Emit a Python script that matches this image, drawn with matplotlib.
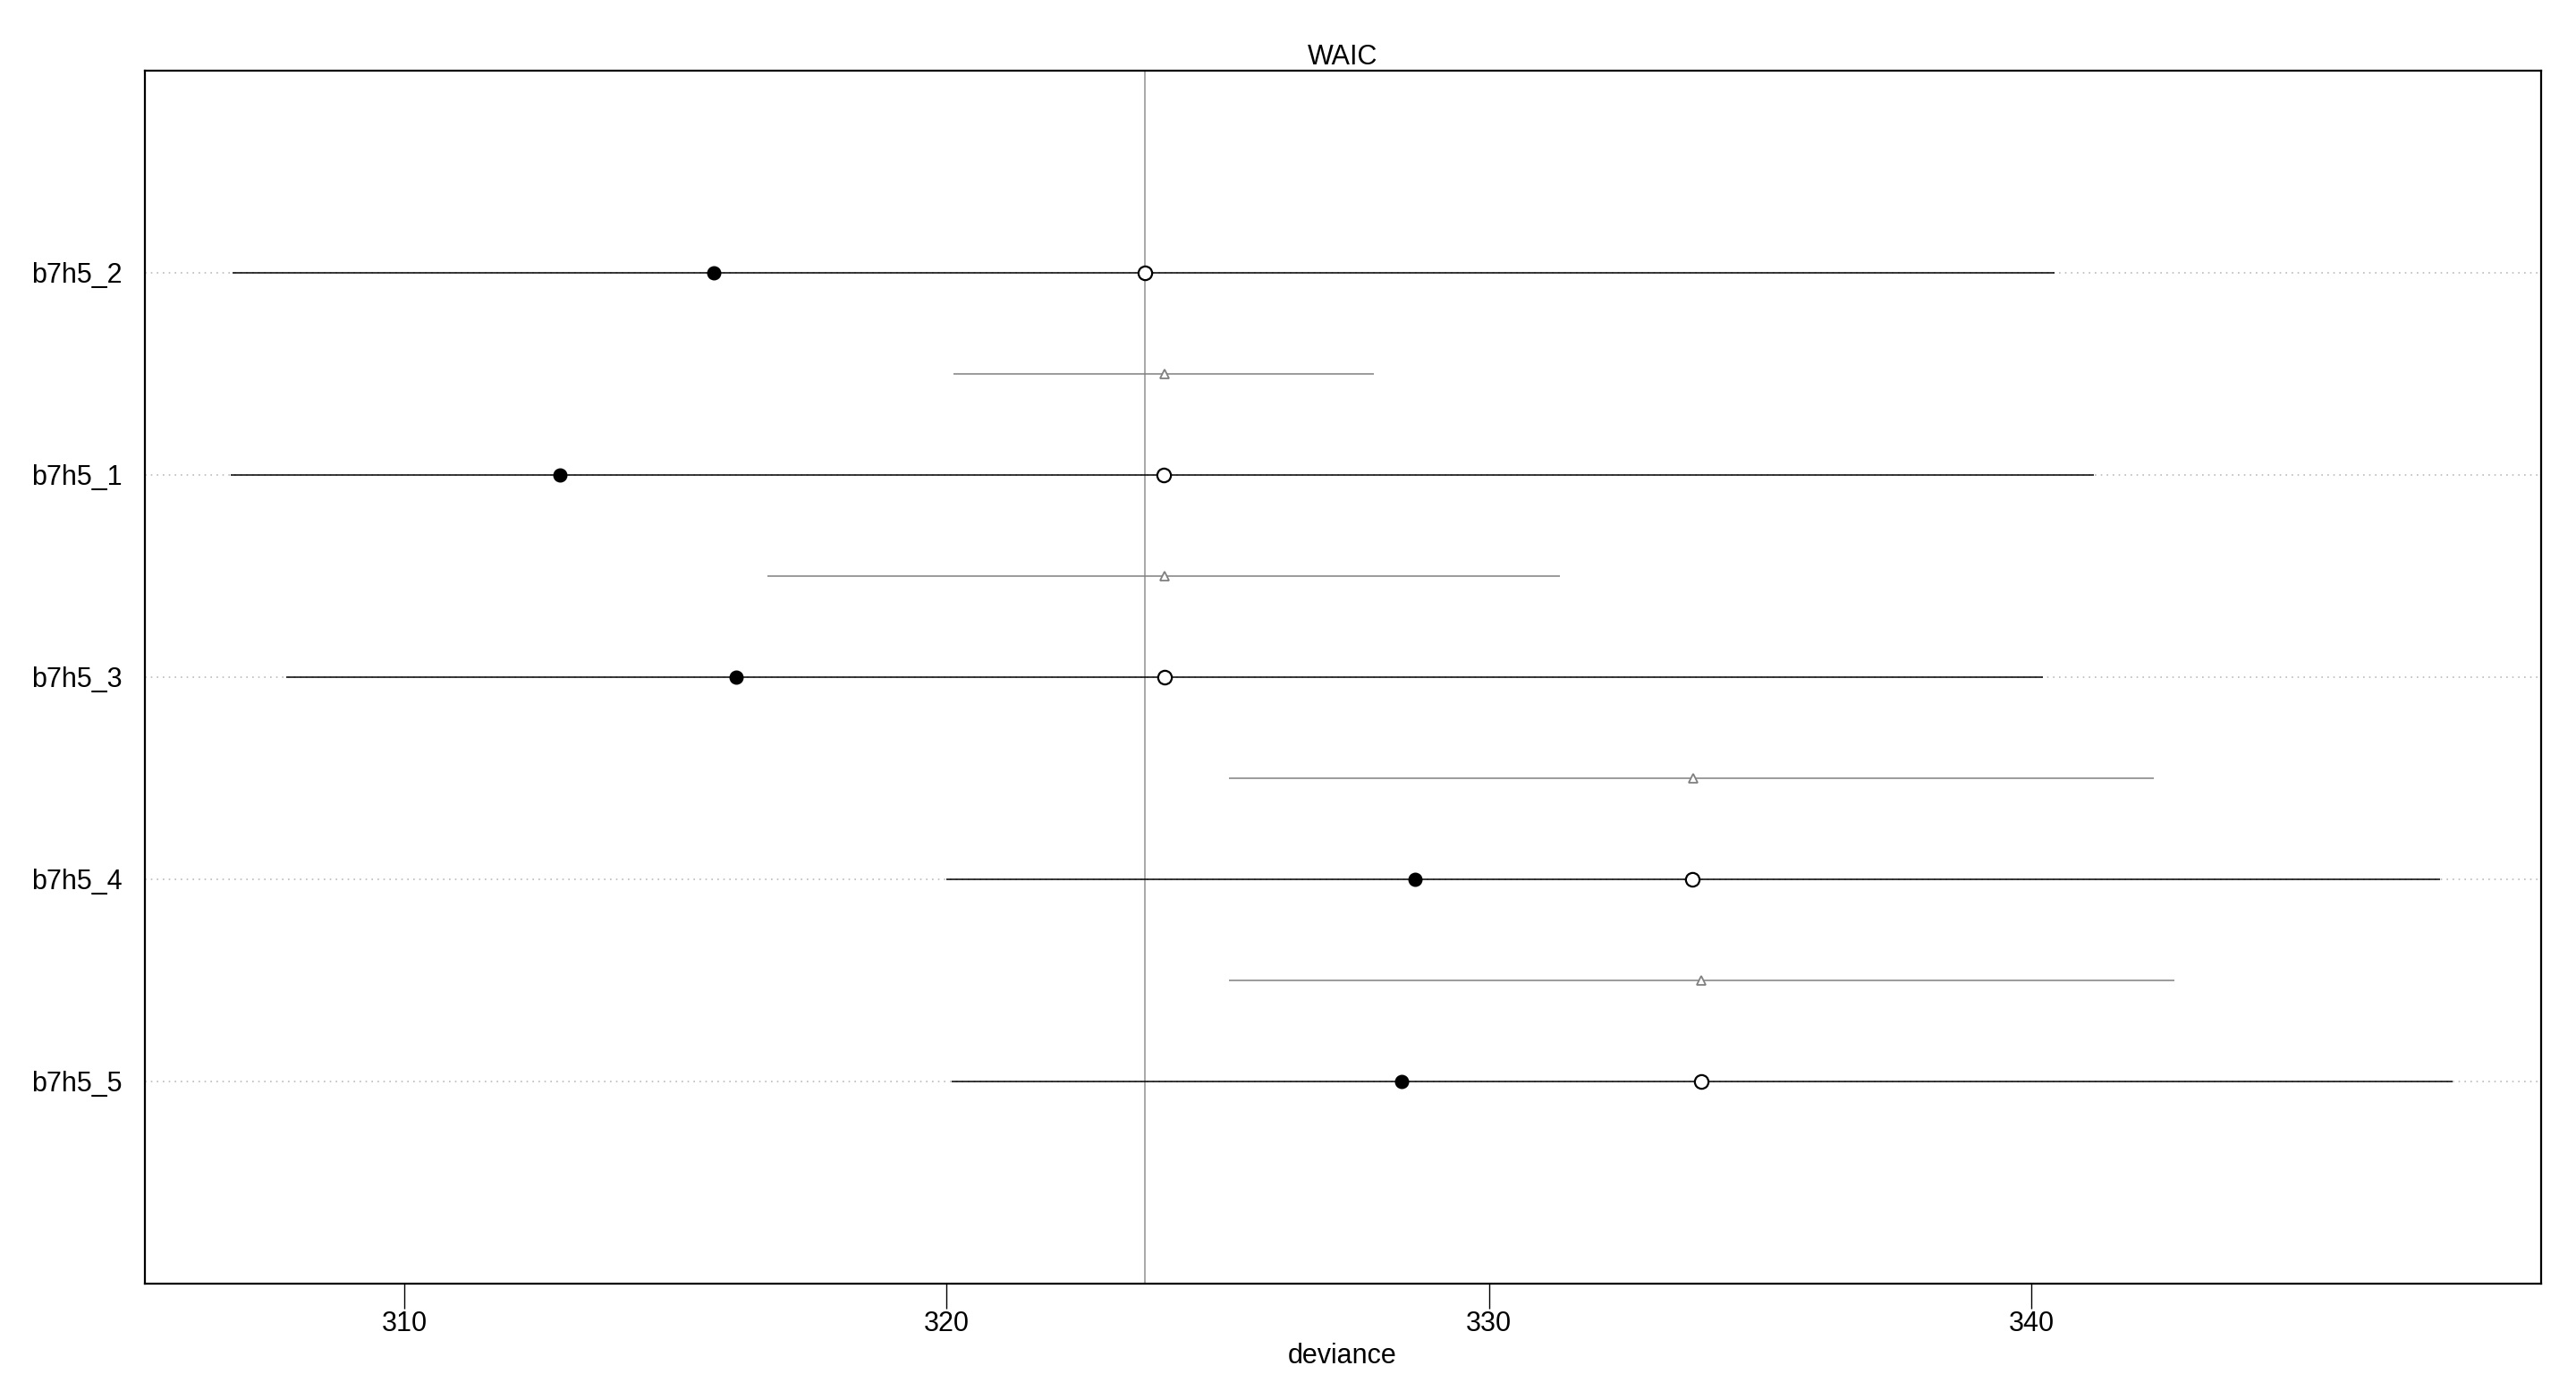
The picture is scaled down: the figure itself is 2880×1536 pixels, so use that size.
import matplotlib.pyplot as plt
import numpy as np

plt.rcParams["font.family"] = ["Liberation Sans", "DejaVu Sans"]

# Valori (ordine dall'alto verso il basso)
models = ["b7h5_2", "b7h5_1", "b7h5_3", "b7h5_4", "b7h5_5"]
waic = [323.65, 324.00, 324.02, 333.74, 333.91]          # cerchio vuoto
in_sample = [315.71, 312.87, 316.12, 328.64, 328.39]     # punto pieno
waic_lo = [306.83, 306.80, 307.82, 320.00, 320.09]
waic_hi = [340.42, 341.15, 340.21, 347.54, 347.77]

# differenze (triangoli) tra un modello e il precedente
dse_center = [324.01, 324.02, 333.76, 333.92]
dse_lo = [320.12, 316.70, 325.21, 325.21]
dse_hi = [327.88, 331.30, 342.26, 342.63]

n = len(models)
y_mod = np.array([2 * (n - 1 - i) + 1 for i in range(n)])
y_dse = y_mod[1:] + 1

fig = plt.figure(figsize=(28.8, 15.36), dpi=100)
ax = fig.add_axes([0.0561, 0.0659, 0.9302, 0.8827])

xlim = (305.21, 349.39)
ax.set_xlim(xlim)
ax.set_ylim(-1, 2 * n + 1)

# linee tratteggiate di sfondo
for y in y_mod:
    ax.plot(xlim, [y, y], linestyle=(0, (1, 3)), color="#bbbbbb", lw=1.2, zorder=1)

# linea verticale al WAIC minimo
ax.axvline(min(waic), color="#999999", lw=1.2, zorder=1)

# intervalli dei modelli
ax.hlines(y_mod, waic_lo, waic_hi, color="black", lw=1.1, zorder=2)
ax.plot(in_sample, y_mod, "o", color="black", ms=10.5, zorder=3)
ax.plot(waic, y_mod, "o", mfc="white", mec="black", mew=1.6, ms=11, zorder=3)

# intervalli delle differenze
ax.hlines(y_dse, dse_lo, dse_hi, color="#808080", lw=1.1, zorder=2)
ax.plot(dse_center, y_dse, "^", mfc="white", mec="#808080", mew=1.3, ms=6.5, zorder=3)

ax.set_yticks(y_mod)
ax.set_yticklabels(models, fontsize=22)
ax.tick_params(axis="y", length=0, pad=18)
ax.set_xticks([310, 320, 330, 340])
ax.tick_params(axis="x", labelsize=22, length=20, width=1, pad=2)

for s in ax.spines.values():
    s.set_linewidth(1.6)

ax.set_title("WAIC", fontsize=22, pad=4)
ax.set_xlabel("deviance", fontsize=22, labelpad=4)

fig.savefig("out.png", dpi=100)
